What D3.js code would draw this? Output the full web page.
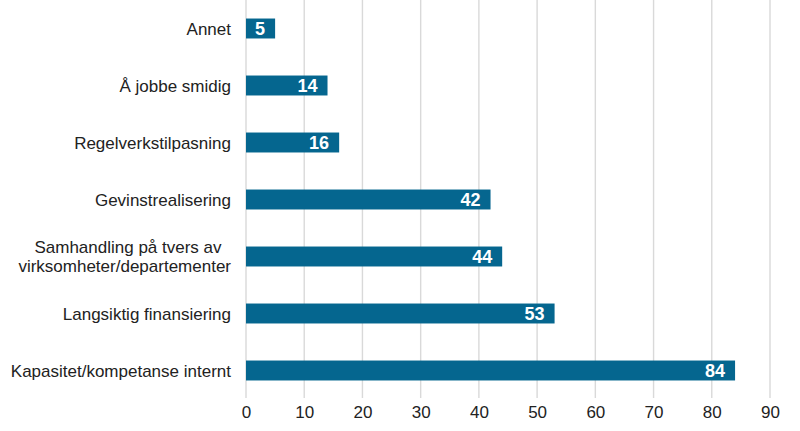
<!DOCTYPE html>
<html><head><meta charset="utf-8">
<script src="https://cdn.jsdelivr.net/npm/d3@7"></script>
<style>body{margin:0;background:#fff}svg{display:block}</style>
</head><body>
<svg id="chart" width="800" height="431"></svg>
<script>
const categories = ["Annet","Å jobbe smidig","Regelverkstilpasning","Gevinstrealisering","Samhandling på tvers av\u00a0\u00a0|virksomheter/departementer","Langsiktig finansiering","Kapasitet/kompetanse internt"];
const values = [5,14,16,42,44,53,84];
const ticks = [0,10,20,30,40,50,60,70,80,90];

const svg = d3.select("#chart");
const x = d3.scaleLinear().domain([0,90]).range([246,770]);
const y = d3.scaleBand().domain(categories).range([0,399]).paddingInner(0.65).paddingOuter(0.325);
const font = "'Liberation Sans', Arial, sans-serif";

// gridlines
svg.append("g").selectAll("line").data(ticks).join("line")
  .attr("x1", d=>x(d)).attr("x2", d=>x(d)).attr("y1",0).attr("y2",398)
  .attr("stroke","#d9d9d9").attr("stroke-width",1.4);

// x axis labels
const xAxis = d3.axisBottom(x).tickValues(ticks).tickSize(0).tickPadding(0);
const gx = svg.append("g").attr("transform","translate(0,406)").call(xAxis);
gx.select(".domain").remove();
gx.selectAll("text").attr("font-family",font).attr("font-size","17px").attr("fill","#222").attr("dy","0.71em");

// bars
svg.append("g").selectAll("rect").data(values).join("rect")
  .attr("x", x(0)).attr("y",(d,i)=>y(categories[i]))
  .attr("width", d=>x(d)-x(0)).attr("height", y.bandwidth())
  .attr("fill","#05668f");

// value labels
svg.append("g").selectAll("text").data(values).join("text")
  .attr("x", d=>x(d)-10).attr("y",(d,i)=>y(categories[i])+y.bandwidth()/2)
  .attr("dy","0.36em").attr("text-anchor","end")
  .attr("font-family",font).attr("font-size","18px").attr("font-weight","bold")
  .attr("fill","#fff").text(d=>d);

// category labels
const cl = svg.append("g").selectAll("text").data(categories).join("text")
  .attr("x",231).attr("y",c=>y(c)+y.bandwidth()/2)
  .attr("text-anchor","end").attr("font-family",font).attr("font-size","17px")
  .attr("fill","#222");
cl.each(function(c){
  const parts = c.split("|");
  const t = d3.select(this);
  parts.forEach((p,j)=>{
    const off = (j - (parts.length-1)/2)*19;
    t.append("tspan").attr("x",231).attr("dy", j===0 ? (off/17+0.36)+"em" : "19px").text(p);
  });
});
</script>
</body></html>
